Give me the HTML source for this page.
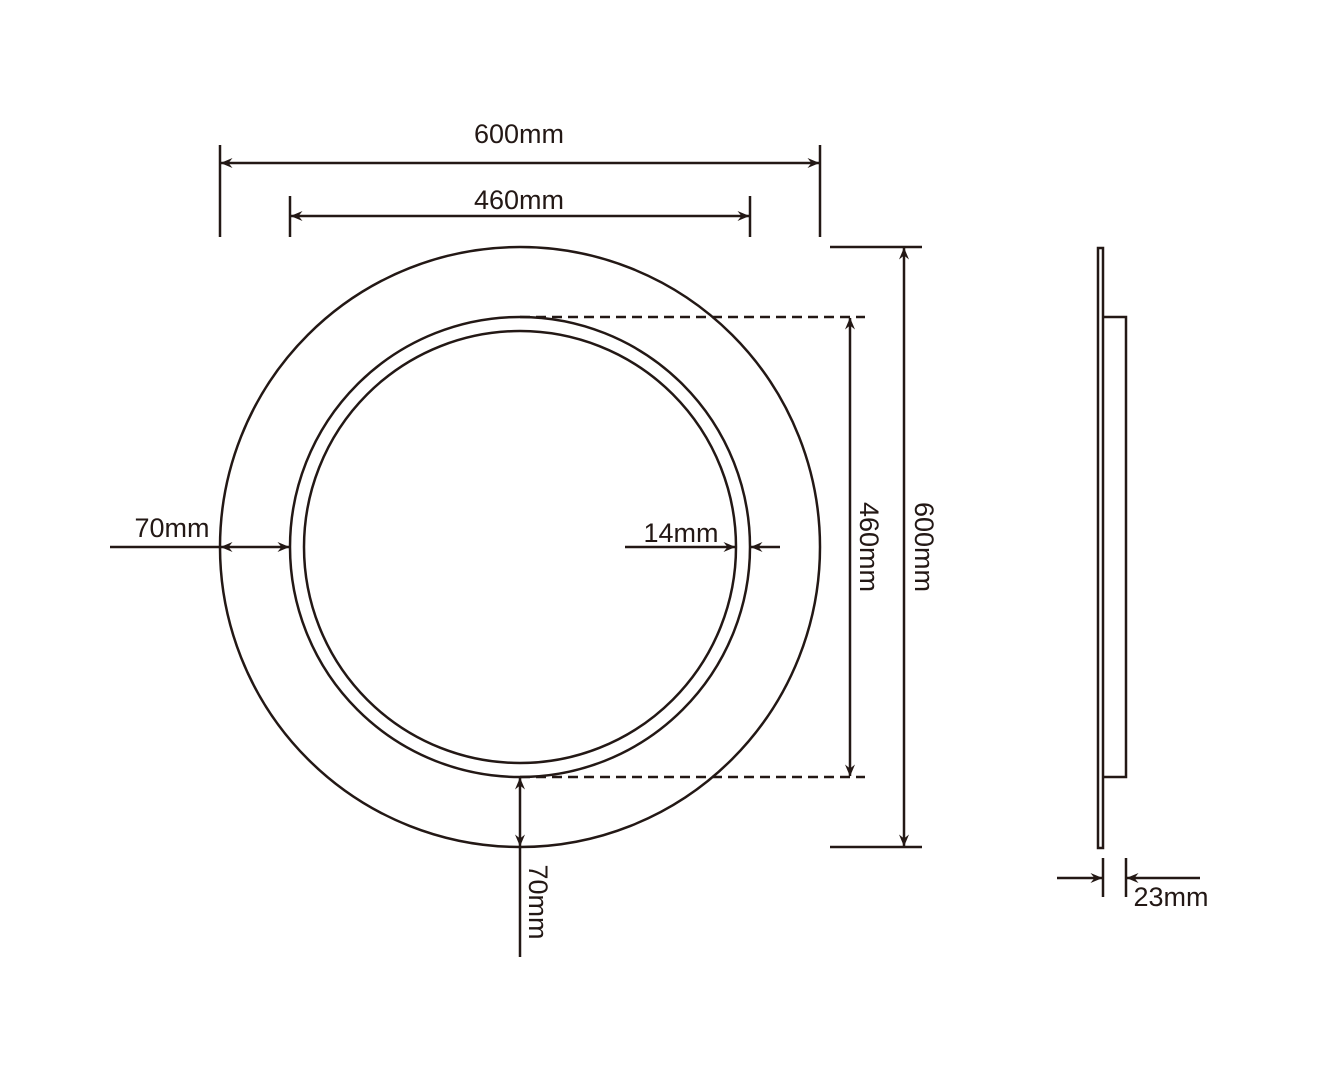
<!DOCTYPE html>
<html><head><meta charset="utf-8"><style>
html,body{margin:0;padding:0;background:#fff;}
svg{display:block;}
text{font-family:"Liberation Sans",Arial,sans-serif;font-size:27px;fill:#231815;}
</style></head><body>
<svg width="1319" height="1080" viewBox="0 0 1319 1080" xmlns="http://www.w3.org/2000/svg">
<defs>
<marker id="a" viewBox="0 0 12 10" refX="11.5" refY="5" markerWidth="12" markerHeight="10" markerUnits="userSpaceOnUse" orient="auto-start-reverse">
<path d="M0,0 L12,5 L0,10 L4,5 Z" fill="#231815"/>
</marker>
</defs>
<g stroke="#231815" stroke-width="2.5" fill="none">
<circle cx="520" cy="547" r="300"/>
<circle cx="520" cy="547" r="230"/>
<circle cx="520" cy="547" r="216"/>
<line x1="220" y1="145" x2="220" y2="237"/>
<line x1="820" y1="145" x2="820" y2="237"/>
<line x1="221" y1="163" x2="819" y2="163" marker-start="url(#a)" marker-end="url(#a)"/>
<line x1="290" y1="196" x2="290" y2="237"/>
<line x1="750" y1="196" x2="750" y2="237"/>
<line x1="291" y1="216" x2="749" y2="216" marker-start="url(#a)" marker-end="url(#a)"/>
<line x1="520" y1="317" x2="865" y2="317" stroke-dasharray="10,6"/>
<line x1="520" y1="777" x2="865" y2="777" stroke-dasharray="10,6"/>
<line x1="850" y1="318" x2="850" y2="776" marker-start="url(#a)" marker-end="url(#a)"/>
<line x1="830" y1="247" x2="922" y2="247"/>
<line x1="830" y1="847" x2="922" y2="847"/>
<line x1="904" y1="248" x2="904" y2="846" marker-start="url(#a)" marker-end="url(#a)"/>
<line x1="110" y1="547" x2="220" y2="547"/>
<line x1="221" y1="547" x2="289" y2="547" marker-start="url(#a)" marker-end="url(#a)"/>
<line x1="625" y1="547" x2="735" y2="547" marker-end="url(#a)"/>
<line x1="780" y1="547" x2="751" y2="547" marker-end="url(#a)"/>
<line x1="520" y1="778" x2="520" y2="846" marker-start="url(#a)" marker-end="url(#a)"/>
<line x1="520" y1="846" x2="520" y2="957"/>
<rect x="1098" y="248" width="5" height="600" stroke-width="2.5"/>
<polyline points="1103,317 1126,317 1126,777 1103,777"/>
<line x1="1103" y1="858" x2="1103" y2="897"/>
<line x1="1126" y1="858" x2="1126" y2="897"/>
<line x1="1057" y1="878" x2="1102" y2="878" marker-end="url(#a)"/>
<line x1="1200" y1="878" x2="1127" y2="878" marker-end="url(#a)"/>
</g>
<text x="519" y="143" text-anchor="middle">600mm</text>
<text x="519" y="209" text-anchor="middle">460mm</text>
<text x="172" y="537" text-anchor="middle">70mm</text>
<text x="681" y="542" text-anchor="middle">14mm</text>
<text x="1171" y="906" text-anchor="middle">23mm</text>
<text transform="translate(860,547) rotate(90)" text-anchor="middle">460mm</text>
<text transform="translate(915,547) rotate(90)" text-anchor="middle">600mm</text>
<text transform="translate(529,902) rotate(90)" text-anchor="middle">70mm</text>
</svg>
</body></html>
